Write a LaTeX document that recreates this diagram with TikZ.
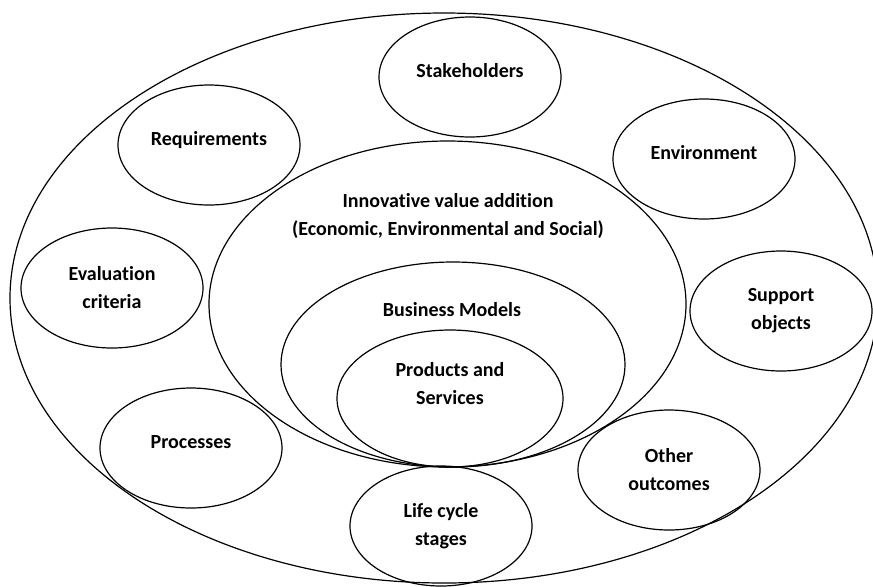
\documentclass[tikz,border=0pt]{standalone}
\usepackage{fontspec}
\setmainfont{Carlito}[Ligatures=NoCommon]
\usepackage{tikz}
\usetikzlibrary{shapes,positioning}
\tikzstyle{every node}=[font=\fontsize{10}{14}\selectfont\bfseries]
\tikzstyle{ring}=[ellipse,draw,line width=0.6pt,inner sep=0pt]
\tikzstyle{oval}=[ring,minimum width=91pt,minimum height=60pt,align=center]
\tikzstyle{oneline}=[text height=0pt,text depth=0pt]

\begin{document}
\begin{tikzpicture}[x=0.5pt,y=-0.5pt]
        \useasboundingbox (0,0) rectangle (873,586);
        % Outer ring:
        \node (world) [ring,minimum width=434pt,minimum height=285pt] at (444,298) {};
        % Nested rings, all touching at the bottom:
        \node (value) [ring,minimum width=238.5pt,minimum height=163pt] at (447.5,304) {};
        \node (bm) [ring,minimum width=172pt,minimum height=102.5pt] at (453,364.5) {};
        \node (ps) [ring,minimum width=113pt,minimum height=68.5pt] at (450,398.5) {};
        \node (valuetxt) [align=center] at (448,215.5) {Innovative value addition\\(Economic, Environmental and Social)};
        \node (bmtxt) [oneline] at (452,316) {Business Models};
        \node (pstxt) [align=center] at (450,383.5) {Products and\\Services};
        % Small ovals round the rim:
        \node (stake) [oval,oneline] at (470,77) {Stakeholders};
        \node (req) [oval,oneline] at (209,145) {Requirements};
        \node (env) [oval,oneline] at (704,159) {Environment};
        \node (eval) [oval] at (112,288) {Evaluation\\criteria};
        \node (supp) [oval] at (781,311) {Support\\objects};
        \node (proc) [oval,oneline] at (191,448) {Processes};
        \node (other) [oval] at (669,470) {Other\\outcomes};
        \node (life) [oval] at (441,526) {Life cycle\\stages};
\end{tikzpicture}
\end{document}
